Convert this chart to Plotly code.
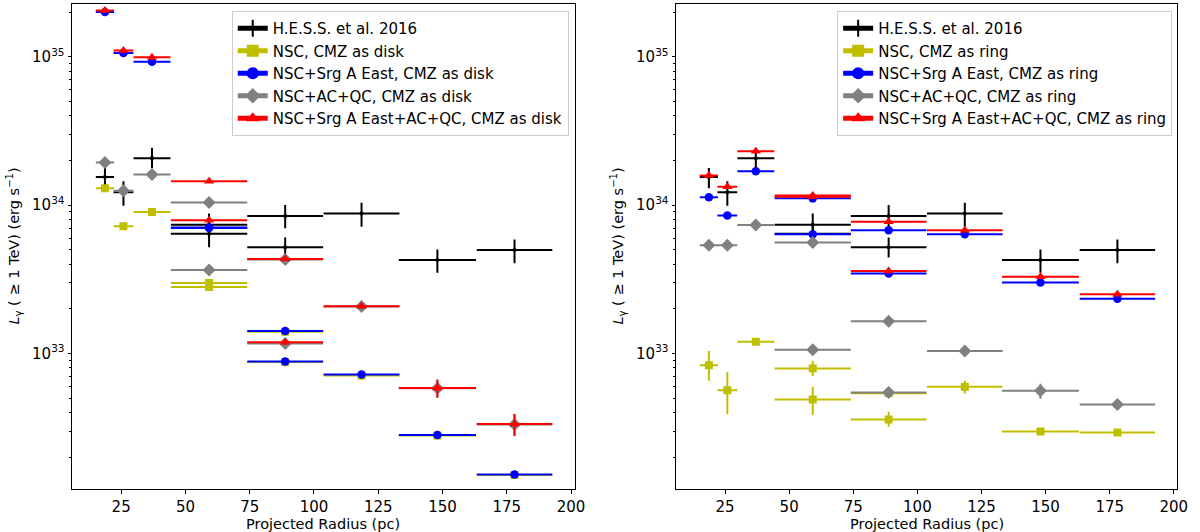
import plotly.graph_objects as go

# ---------------- data ----------------
radius = [18.7, 25.9, 37.0, 59.2, 59.2, 88.8, 88.8, 118.5, 148.0, 178.0]
radius_halfwidth = [3.55, 3.85, 7.2, 14.85, 14.85, 14.75, 14.75, 14.75, 15.0, 14.7]

hess = [1.545e34, 1.22e34, 2.07e34, 7.37e33, 6.40e33, 8.44e33, 5.19e33, 8.79e33, 4.26e33, 4.98e33]
hess_up = [0.23e34, 0.23e34, 0.36e34, 1.42e33, 1.2e33, 1.56e33, 0.86e33, 1.6e33, 0.76e33, 0.89e33]
hess_dn = [0.245e34, 0.23e34, 0.30e34, 1.2e33, 1.21e33, 1.47e33, 0.75e33, 1.65e33, 0.76e33, 0.93e33]

# CMZ as disk (left panel)
nsc_disk = [1.30e34, 7.2e33, 9.0e33, 2.99e33, 2.81e33, 1.40e33, 8.75e32, 7.1e32, 2.8e32, 1.52e32]
nsc_disk_err = [0.04e34, 0.25e33, 0.25e33, 0.1e33, 0.1e33, 0.05e33, 0.3e32, 0.4e32, 0.12e32, 0.05e32]
sgr_disk = [2.0e35, 1.06e35, 9.25e34, 7.07e33, 7.02e33, 1.42e33, 8.84e32, 7.21e32, 2.82e32, 1.53e32]
sgr_disk_err = [2e33, 1e33, 1e33, 0.1e33, 0.1e33, 0.05e33, 0.3e32, 0.4e32, 0.12e32, 0.05e32]
acqc_disk = [1.94e34, 1.25e34, 1.61e34, 1.04e34, 3.66e33, 4.30e33, 1.17e33, 2.07e33, 5.84e32, 3.33e32]
acqc_disk_err = [0.05e34, 0.03e34, 0.04e34, 0.03e34, 0.1e33, 0.1e33, 0.05e33, 0.08e33, 0.8e32, 0.56e32]
all_disk = [2.05e35, 1.10e35, 9.9e34, 1.445e34, 7.89e33, 4.33e33, 1.19e33, 2.08e33, 5.86e32, 3.35e32]
all_disk_err = [2e33, 1e33, 1e33, 0.03e34, 0.1e33, 0.1e33, 0.05e33, 0.08e33, 0.82e32, 0.56e32]

# CMZ as ring (right panel)
nsc_ring = [8.34e32, 5.65e32, 1.20e33, 7.93e32, 4.90e32, 5.40e32, 3.59e32, 5.96e32, 2.98e32, 2.93e32]
nsc_ring_up = [2.06e32, 1.85e32, 0.06e33, 1.0e32, 1.06e32, 0.2e32, 0.46e32, 0.6e32, 0.15e32, 0.12e32]
nsc_ring_dn = [1.79e32, 1.75e32, 0.06e33, 0.9e32, 1.06e32, 0.2e32, 0.39e32, 0.6e32, 0.15e32, 0.12e32]
sgr_ring = [1.13e34, 8.52e33, 1.69e34, 1.11e34, 6.35e33, 6.77e33, 3.46e33, 6.35e33, 3.01e33, 2.34e33]
sgr_ring_err = [2e32, 1.8e32, 0.6e32, 1.0e32, 1.0e32, 0.3e32, 0.4e32, 0.6e32, 0.15e32, 0.12e32]
acqc_ring = [5.37e33, 5.37e33, 7.33e33, 1.06e33, 5.60e33, 1.65e33, 5.46e32, 1.04e33, 5.60e32, 4.53e32]
acqc_ring_err = [0.1e33, 0.1e33, 0.1e33, 0.06e33, 0.1e33, 0.05e33, 0.3e32, 0.06e33, 0.65e32, 0.2e32]
all_ring = [1.58e34, 1.33e34, 2.31e34, 1.16e34, 1.14e34, 7.71e33, 3.59e33, 6.77e33, 3.29e33, 2.51e33]
all_ring_err = [2e32, 1.8e32, 0.8e32, 1.0e32, 1.0e32, 0.8e32, 0.5e32, 0.8e32, 0.7e32, 0.3e32]

hess_label = "H.E.S.S. et al. 2016"
labels_disk = ["NSC, CMZ as disk", "NSC+Srg A East, CMZ as disk",
               "NSC+AC+QC, CMZ as disk", "NSC+Srg A East+AC+QC, CMZ as disk"]
labels_ring = ["NSC, CMZ as ring", "NSC+Srg A East, CMZ as ring",
               "NSC+AC+QC, CMZ as ring", "NSC+Srg A East+AC+QC, CMZ as ring"]

x_ticks = [25, 50, 75, 100, 125, 150, 175, 200]
y_major = [1e33, 1e34, 1e35]
y_major_text = ["10<sup>33</sup>", "10<sup>34</sup>", "10<sup>35</sup>"]
x_title = "Projected Radius (pc)"
y_title = "<i>L</i><sub>γ</sub> ( ≥ 1 TeV) (erg s<sup>−1</sup>)"

# ---------------- style ----------------
C_HESS, C_NSC, C_SGR, C_ACQC, C_ALL = "#000000", "#bfbf00", "#0000ff", "#808080", "#ff0000"
FONT = "DejaVu Sans"
FS = 15
EB_T = 2

fig = go.Figure()


def add_series(xa, ya, y, up, dn, color, symbol, size, legend, label):
    fig.add_trace(go.Scatter(
        x=radius, y=y, xaxis=xa, yaxis=ya, mode="markers",
        marker=dict(color=color, symbol=symbol, size=size, line=dict(width=0)),
        error_x=dict(type="data", array=radius_halfwidth, color=color, thickness=EB_T, width=0),
        error_y=dict(type="data", array=up, arrayminus=dn, symmetric=False,
                     color=color, thickness=EB_T, width=0),
        showlegend=False, hoverinfo="skip"))
    fig.add_trace(go.Scatter(
        x=[None], y=[None], xaxis=xa, yaxis=ya, mode="lines+markers", name=label,
        line=dict(color=color, width=EB_T),
        marker=dict(symbol=symbol, size=size, color=color, line=dict(width=0)),
        legend=legend, showlegend=True))


panels = [
    ("x", "y", "legend", nsc_disk, (nsc_disk_err, nsc_disk_err), sgr_disk, sgr_disk_err,
     acqc_disk, acqc_disk_err, all_disk, all_disk_err, labels_disk),
    ("x2", "y2", "legend2", nsc_ring, (nsc_ring_up, nsc_ring_dn), sgr_ring, sgr_ring_err,
     acqc_ring, acqc_ring_err, all_ring, all_ring_err, labels_ring),
]

for (xa, ya, lg, nsc, nsc_e, sgr, sgr_e, acqc, acqc_e, allv, all_e, labs) in panels:
    fig.add_trace(go.Scatter(
        x=radius, y=hess, xaxis=xa, yaxis=ya, mode="markers",
        marker=dict(color=C_HESS, symbol="circle", size=4),
        error_x=dict(type="data", array=radius_halfwidth, color=C_HESS, thickness=EB_T, width=0),
        error_y=dict(type="data", array=hess_up, arrayminus=hess_dn, symmetric=False,
                     color=C_HESS, thickness=EB_T, width=0),
        showlegend=False, hoverinfo="skip"))
    fig.add_trace(go.Scatter(
        x=[None], y=[None], xaxis=xa, yaxis=ya, mode="lines+markers", name=hess_label,
        line=dict(color=C_HESS, width=EB_T),
        marker=dict(symbol="line-ns", size=13, color=C_HESS, line=dict(width=EB_T, color=C_HESS)),
        legend=lg, showlegend=True))
    add_series(xa, ya, nsc, nsc_e[0], nsc_e[1], C_NSC, "square", 8, lg, labs[0])
    add_series(xa, ya, sgr, sgr_e, sgr_e, C_SGR, "circle", 8.5, lg, labs[1])
    add_series(xa, ya, acqc, acqc_e, acqc_e, C_ACQC, "diamond", 10, lg, labs[2])
    add_series(xa, ya, allv, all_e, all_e, C_ALL, "triangle-up", 9, lg, labs[3])

W, H = 1200, 532
PLOT_TOP, PLOT_BOT = 4, 489
y_dom = [1 - PLOT_BOT / H, 1 - PLOT_TOP / H]
left_dom = [72.7 / W, 580 / W]
right_dom = [682.3 / W, 1188.3 / W]
minor_vals = [float(m) * 10.0 ** e for e in (32, 33, 34, 35) for m in range(2, 10)]

tfont = dict(family=FONT, size=FS, color="#000000")
title_font = dict(family=FONT, size=14.5, color="#000000")
axis_common = dict(showline=True, mirror=True, linecolor="#000000", linewidth=1,
                   ticks="outside", ticklen=3.5, tickwidth=1, tickcolor="#000000",
                   showgrid=False, zeroline=False, tickfont=tfont)

xaxis_common = dict(axis_common, range=[5.9, 201.4], tickvals=x_ticks)
yaxis_common = dict(axis_common, type="log", range=[32.087, 35.355],
                    tickvals=y_major, ticktext=y_major_text,
                    minor=dict(ticks="outside", ticklen=2, tickwidth=1, tickcolor="#000000",
                               tickvals=minor_vals, showgrid=False))

legend_common = dict(xanchor="right", yanchor="top", y=1 - 11 / H,
                     bgcolor="rgba(255,255,255,0.8)", bordercolor="#cccccc", borderwidth=1,
                     font=tfont, tracegroupgap=0, itemsizing="constant")

annotations = []
for dom in (left_dom, right_dom):
    annotations.append(dict(text=x_title, xref="paper", yref="paper",
                            x=(dom[0] + dom[1]) / 2, y=1 - 524 / H,
                            xanchor="center", yanchor="middle", showarrow=False,
                            font=title_font))
    annotations.append(dict(text=y_title, xref="paper", yref="paper",
                            x=(dom[0] * W - 59.5) / W, y=1 - (PLOT_TOP + PLOT_BOT) / 2 / H,
                            xanchor="center", yanchor="middle", textangle=-90,
                            showarrow=False, font=title_font))

fig.update_layout(
    width=W, height=H, margin=dict(l=0, r=0, t=0, b=0),
    paper_bgcolor="white", plot_bgcolor="white",
    font=tfont,
    xaxis=dict(xaxis_common, domain=left_dom, anchor="y"),
    yaxis=dict(yaxis_common, domain=y_dom, anchor="x"),
    xaxis2=dict(xaxis_common, domain=right_dom, anchor="y2"),
    yaxis2=dict(yaxis_common, domain=y_dom, anchor="x2"),
    legend=dict(legend_common, x=574 / W),
    legend2=dict(legend_common, x=1183 / W),
    annotations=annotations,
)

fig.write_html("out.html", config={"displayModeBar": False},
               post_script="document.body.style.margin='0';document.body.style.overflow='hidden';")
